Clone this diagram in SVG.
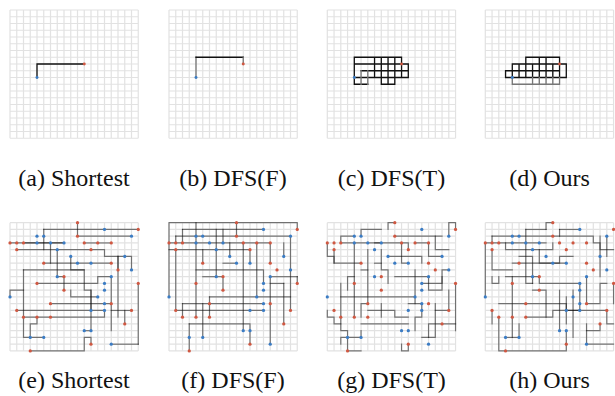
<svg xmlns="http://www.w3.org/2000/svg" width="615" height="396" viewBox="0 0 615 396">
<style>
.grid{fill:none;stroke:#e2e2e2;stroke-width:1.2;vector-effect:non-scaling-stroke}
.p{fill:none;stroke:#111;stroke-width:1.3;vector-effect:non-scaling-stroke;stroke-linecap:square}
.g{fill:none;stroke:#777;stroke-width:1.3;vector-effect:non-scaling-stroke;stroke-linecap:square}
.q{fill:none;stroke:#000;stroke-opacity:.5;stroke-width:1.2;vector-effect:non-scaling-stroke;stroke-linecap:square}
.s{fill:#3b7cc4}
.t{fill:#cf5842}
text{font-family:"Liberation Serif","Times New Roman",serif;font-size:24px;text-anchor:middle;fill:#111}
</style>
<defs>
<path id="gridpath" class="grid" d="M0 0H19M0 1H19M0 2H19M0 3H19M0 4H19M0 5H19M0 6H19M0 7H19M0 8H19M0 9H19M0 10H19M0 11H19M0 12H19M0 13H19M0 14H19M0 15H19M0 16H19M0 17H19M0 18H19M0 19H19M0 0V19M1 0V19M2 0V19M3 0V19M4 0V19M5 0V19M6 0V19M7 0V19M8 0V19M9 0V19M10 0V19M11 0V19M12 0V19M13 0V19M14 0V19M15 0V19M16 0V19M17 0V19M18 0V19M19 0V19"/>
<g id="dots">
<g class="s">
<circle cx="14" cy="1" r=".24"/><circle cx="4" cy="2" r=".24"/><circle cx="5" cy="2" r=".24"/><circle cx="18" cy="2" r=".24"/><circle cx="4" cy="3" r=".24"/><circle cx="6" cy="3" r=".24"/><circle cx="8" cy="3" r=".24"/><circle cx="7" cy="4" r=".24"/><circle cx="9" cy="5" r=".24"/><circle cx="17" cy="5" r=".24"/><circle cx="10" cy="6" r=".24"/><circle cx="12" cy="6" r=".24"/><circle cx="18" cy="7" r=".24"/><circle cx="7" cy="8" r=".24"/><circle cx="15" cy="8" r=".24"/><circle cx="14" cy="9" r=".24"/><circle cx="14" cy="10" r=".24"/><circle cx="0" cy="11" r=".24"/><circle cx="13" cy="11" r=".24"/><circle cx="14" cy="12" r=".24"/><circle cx="12" cy="13" r=".24"/><circle cx="14" cy="13" r=".24"/><circle cx="11" cy="16" r=".24"/><circle cx="12" cy="16" r=".24"/><circle cx="3" cy="17" r=".24"/><circle cx="5" cy="17" r=".24"/><circle cx="15" cy="18" r=".24"/>
</g>
<g class="t">
<circle cx="10" cy="0" r=".24"/><circle cx="19" cy="1" r=".24"/><circle cx="10" cy="2" r=".24"/><circle cx="0" cy="3" r=".24"/><circle cx="1" cy="3" r=".24"/><circle cx="2" cy="3" r=".24"/><circle cx="11" cy="3" r=".24"/><circle cx="13" cy="3" r=".24"/><circle cx="15" cy="3" r=".24"/><circle cx="1" cy="4" r=".24"/><circle cx="12" cy="4" r=".24"/><circle cx="5" cy="6" r=".24"/><circle cx="15" cy="6" r=".24"/><circle cx="16" cy="7" r=".24"/><circle cx="8" cy="8" r=".24"/><circle cx="4" cy="9" r=".24"/><circle cx="19" cy="9" r=".24"/><circle cx="8" cy="10" r=".24"/><circle cx="6" cy="12" r=".24"/><circle cx="15" cy="12" r=".24"/><circle cx="1" cy="13" r=".24"/><circle cx="18" cy="13" r=".24"/><circle cx="2" cy="14" r=".24"/><circle cx="4" cy="14" r=".24"/><circle cx="6" cy="14" r=".24"/><circle cx="17" cy="15" r=".24"/><circle cx="12" cy="18" r=".24"/><circle cx="3" cy="19" r=".24"/>
</g>
</g>
</defs>
<rect width="615" height="396" fill="#fff"/>

<g id="panel-a" transform="translate(10,10) scale(6.75)">
<use href="#gridpath"/>
<g id="connectors-a"><path class="p" d="M4 10V8H11"/></g>
<circle class="s" cx="4" cy="10" r=".22"/><circle class="t" cx="11" cy="8" r=".22"/>
</g>
<g id="panel-b" transform="translate(169,10) scale(6.75)">
<use href="#gridpath"/>
<g id="connectors-b"><path class="g" d="M4 10V7"/><path class="p" d="M4 7H11"/><path class="g" d="M11 7V8"/></g>
<circle class="s" cx="4" cy="10" r=".22"/><circle class="t" cx="11" cy="8" r=".22"/>
</g>
<g id="panel-c" transform="translate(327.3,10) scale(6.75)">
<use href="#gridpath"/>
<g id="connectors-c">
<path class="p" d="M4 7H11M4 8H12M4 10H12M8 11H10M4 7V11M7 7V10M8 7V11M9 7V11M10 7V11M11 7V10M12 8V10M4 11H6M5 9H12"/>
<path class="g" d="M5 9V11M6 9V11"/>
</g>
<circle class="s" cx="4" cy="10" r=".22"/><circle class="t" cx="11" cy="8" r=".22"/>
</g>
<g id="panel-d" transform="translate(485.3,10) scale(6.75)">
<use href="#gridpath"/>
<g id="connectors-d">
<path class="p" d="M6 7H11M4 8H12M3 9H11M3 10H12M3 9V10M4 8V10M5 8V10M6 7V10M7 8V10M8 7V10M9 7V10M10 8V10M11 7V10M12 8V10"/>
<path class="g" d="M4 11H11M4 10V11M7 10V11M8 10V11M9 10V11M10 10V11M11 10V11"/>
</g>
<circle class="s" cx="4" cy="10" r=".22"/><circle class="t" cx="11" cy="8" r=".22"/>
</g>

<g id="panel-e" transform="translate(10,222.7) scale(6.75)">
<use href="#gridpath"/>
<g id="connectors-e">
<path class="q" d="M5 1H19"/><path class="q" d="M5 1V4"/><path class="q" d="M10 0V2H18"/>
<path class="q" d="M0 3H8"/><path class="q" d="M2 3H8"/><path class="q" d="M11 3H15"/>
<path class="q" d="M1 4H14V5H17"/><path class="q" d="M6 3V6"/><path class="q" d="M5 6H15"/>
<path class="q" d="M7 4V8"/><path class="q" d="M9 5V7H11V10H12V13"/><path class="q" d="M2 7V17H5"/>
<path class="q" d="M2 7H11"/><path class="q" d="M0 11V10H2"/><path class="q" d="M4 9H13V8H15"/>
<path class="q" d="M7 8H8V10"/><path class="q" d="M16 5V14"/><path class="q" d="M15 8V16"/>
<path class="q" d="M19 9V18"/><path class="q" d="M6 12H15"/><path class="q" d="M1 13H14"/>
<path class="q" d="M15 13H18"/><path class="q" d="M2 14H14V13"/><path class="q" d="M3 19H11V17H12V18"/>
<path class="q" d="M11 16H12"/><path class="q" d="M12 10V16"/><path class="q" d="M3 17V15H4V14"/>
<path class="q" d="M17 15V13"/><path class="q" d="M13 11H9V10"/><path class="q" d="M15 18H19"/>
<path class="q" d="M17 5H18V7"/><path class="q" d="M16 7V5"/>
</g>
<use href="#dots"/>
</g>

<g id="panel-f" transform="translate(169,222.7) scale(6.75)">
<use href="#gridpath"/>
<g id="connectors-f">
<path class="q" d="M0 11V0H19V1"/><path class="q" d="M4 0V14"/><path class="q" d="M2 1H14"/><path class="q" d="M2 1V3"/>
<path class="q" d="M1 2H18"/><path class="q" d="M1 2V3"/><path class="q" d="M1 4V13"/><path class="q" d="M0 3H15"/>
<path class="q" d="M0 4H12"/><path class="q" d="M5 4V6"/><path class="q" d="M7 1V8"/><path class="q" d="M8 1V3"/>
<path class="q" d="M9 3V5"/><path class="q" d="M10 0V2"/><path class="q" d="M11 3V16"/><path class="q" d="M12 4V6"/>
<path class="q" d="M12 16V18"/><path class="q" d="M13 3V11"/><path class="q" d="M15 3V6"/><path class="q" d="M15 8V18"/>
<path class="q" d="M17 3V5"/><path class="q" d="M17 9V15"/><path class="q" d="M18 2V13"/><path class="q" d="M19 8V9"/>
<path class="q" d="M8 6H10"/><path class="q" d="M4 7H14V9"/><path class="q" d="M5 8H8"/><path class="q" d="M15 8H19"/>
<path class="q" d="M15 9H17"/><path class="q" d="M6 11H18"/><path class="q" d="M6 11V14"/><path class="q" d="M2 12H14"/>
<path class="q" d="M2 12V14"/><path class="q" d="M1 13H14"/><path class="q" d="M3 15H12V16"/><path class="q" d="M3 15V19"/>
<path class="q" d="M5 12V17"/><path class="q" d="M8 8V10"/>
</g>
<use href="#dots"/>
</g>

<g id="panel-g" transform="translate(327.3,222.7) scale(6.75)">
<use href="#gridpath"/>
<g id="connectors-g">
<path class="q" d="M9 1V0H10"/><path class="q" d="M18 2V0H19V1"/><path class="q" d="M5 2V1H8"/><path class="q" d="M2 3V2H4"/>
<path class="q" d="M0 3V5H1V6H5"/><path class="q" d="M10 2H17"/><path class="q" d="M2 3H8"/><path class="q" d="M4 3V14"/>
<path class="q" d="M6 4V12H5V14"/><path class="q" d="M7 3H12V4"/><path class="q" d="M8 4V7H9V9"/><path class="q" d="M11 3V6H12"/>
<path class="q" d="M13 3H15V5H17"/><path class="q" d="M9 5H14V6"/><path class="q" d="M7 6H8"/><path class="q" d="M5 7H6"/>
<path class="q" d="M2 9V16H3V19H5"/><path class="q" d="M2 11H13"/><path class="q" d="M10 8H15"/><path class="q" d="M15 8V10H17V8"/>
<path class="q" d="M19 9V16"/><path class="q" d="M18 10V13H16V12"/><path class="q" d="M0 13V14H1V15H2"/><path class="q" d="M5 15H12"/>
<path class="q" d="M5 16V17H2V18"/><path class="q" d="M11 18V19H12V18"/><path class="q" d="M14 17H15V15H19"/><path class="q" d="M6 13H10V14H12"/>
<path class="q" d="M12 12H14V14H13V16"/><path class="q" d="M3 10V8H4"/><path class="q" d="M16 2V4H18"/><path class="q" d="M14 9H17V7H18"/>
<path class="q" d="M8 12V14"/><path class="q" d="M1 4V6"/><path class="q" d="M13 7V12"/><path class="q" d="M16 13V17H15"/>
</g>
<use href="#dots"/>
</g>

<g id="panel-h" transform="translate(485.3,222.7) scale(6.75)">
<use href="#gridpath"/>
<g id="connectors-h">
<path class="q" d="M9 1V0H10"/><path class="q" d="M6 1H9"/><path class="q" d="M6 1V9H7"/><path class="q" d="M11 1H14"/><path class="q" d="M11 1V2"/>
<path class="q" d="M1 2H16V3H17V4H19"/><path class="q" d="M1 2V3"/><path class="q" d="M0 3V11"/><path class="q" d="M0 3H9"/>
<path class="q" d="M3 3V4H10V3"/><path class="q" d="M8 4V6H11V5H13"/><path class="q" d="M5 5H7V9"/><path class="q" d="M1 4V7H4"/>
<path class="q" d="M4 6H12"/><path class="q" d="M17 2V8"/><path class="q" d="M18 2V5"/><path class="q" d="M1 8V9H2V8"/>
<path class="q" d="M3 8H8V9H14"/><path class="q" d="M4 8V17"/><path class="q" d="M2 12H12V15"/><path class="q" d="M14 9V13"/>
<path class="q" d="M15 8V12H17V9H18"/><path class="q" d="M19 9V12"/><path class="q" d="M12 11V13H18V15H19"/><path class="q" d="M1 13V15"/>
<path class="q" d="M2 14V19H12V18"/><path class="q" d="M6 14H10V13H14"/><path class="q" d="M5 15V17"/><path class="q" d="M3 17H5"/>
<path class="q" d="M11 16V10"/><path class="q" d="M12 16V18"/><path class="q" d="M13 10V17"/><path class="q" d="M15 15V18H19"/>
<path class="q" d="M17 15V16H15"/><path class="q" d="M7 10H9V14"/>
</g>
<use href="#dots"/>
</g>

<g id="labels">
<text x="74" y="186">(a) Shortest</text>
<text x="233" y="186">(b) DFS(F)</text>
<text x="391.5" y="186">(c) DFS(T)</text>
<text x="549.5" y="186">(d) Ours</text>
<text x="74" y="388">(e) Shortest</text>
<text x="233" y="388">(f) DFS(F)</text>
<text x="391.5" y="388">(g) DFS(T)</text>
<text x="549.5" y="388">(h) Ours</text>
</g>
</svg>
